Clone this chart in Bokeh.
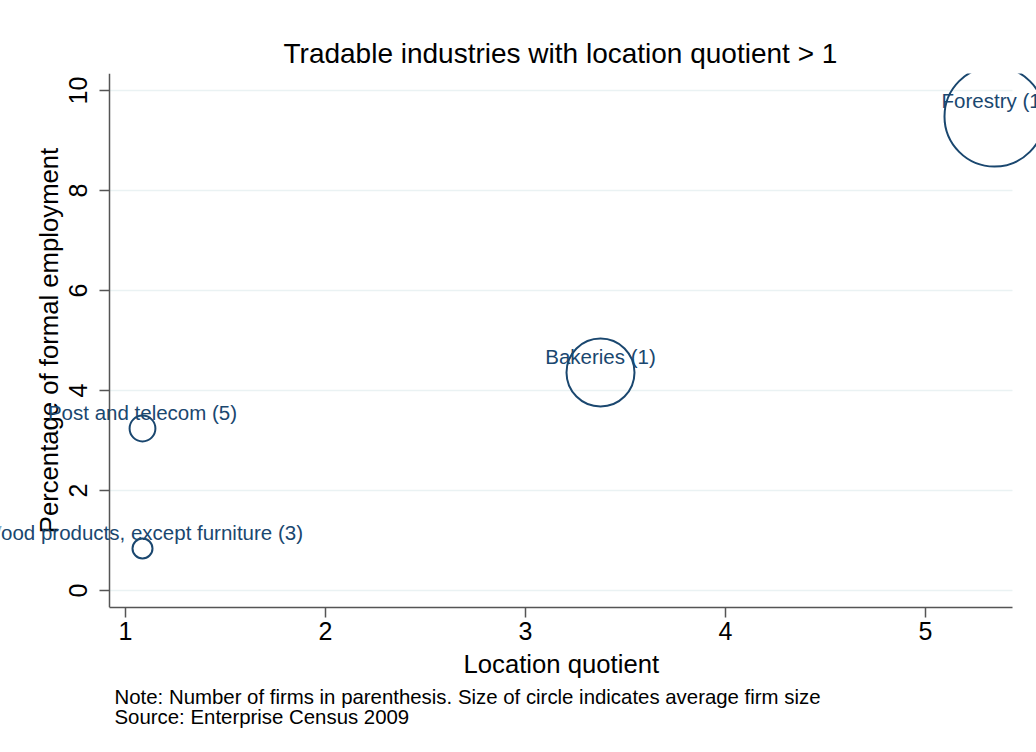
import math
from bokeh.plotting import figure
from bokeh.models import ColumnDataSource, Label, Title, Range1d, FixedTicker
from bokeh.embed import file_html
from bokeh.resources import INLINE

# ---- data ----
industries = ["Wood products, except furniture", "Post and telecom", "Bakeries", "Forestry"]
num_firms = [3, 5, 1, 1]
location_quotient = [1.085, 1.085, 3.375, 5.345]
pct_formal_employment = [0.84, 3.24, 4.36, 9.48]
avg_firm_size = [9.6, 16.0, 111.0, 240.0]
x_ticks = [1, 2, 3, 4, 5]
y_ticks = [0, 2, 4, 6, 8, 10]

labels = [f"{n} ({k})" for n, k in zip(industries, num_firms)]
MAX_D = 100.0
sizes = [MAX_D * math.sqrt(w / max(avg_firm_size)) for w in avg_firm_size]

src = ColumnDataSource(dict(x=location_quotient, y=pct_formal_employment,
                            size=sizes, label=labels))

FONT = "Liberation Sans"
NAVY = "#1a476f"
AXIS = "#555555"
X_AXIS_START, X_AXIS_END = 0.92, 5.435

p = figure(width=1036, height=744, output_backend="svg", toolbar_location=None,
           x_range=Range1d(0.375, 5.555), y_range=Range1d(-0.34, 10.34),
           min_border_left=0, min_border_right=0, min_border_top=73,
           min_border_bottom=137)
p.outline_line_color = None
p.background_fill_color = "white"
p.border_fill_color = "white"

p.scatter("x", "y", size="size", source=src, marker="circle",
          fill_color=None, line_color=NAVY, line_width=2)

# marker labels (one annotation per point, positioned through the data scales)
for xv, yv, t in zip(location_quotient, pct_formal_employment, labels):
    p.add_layout(Label(x=xv, y=yv, text=t, y_offset=16,
                       text_align="center", text_baseline="middle",
                       text_font=FONT, text_font_size="20.5px", text_color=NAVY))

# axes
for ax in (p.xaxis, p.yaxis):
    ax.axis_line_color = AXIS
    ax.axis_line_width = 1.5
    ax.major_tick_line_color = AXIS
    ax.major_tick_line_width = 1.5
    ax.major_tick_out = 10
    ax.major_tick_in = 0
    ax.minor_tick_line_color = None
    ax.major_label_text_font = FONT
    ax.major_label_text_font_size = "25px"
    ax.major_label_text_color = "black"
    ax.axis_label_text_font = FONT
    ax.axis_label_text_font_size = "25.7px"
    ax.axis_label_text_font_style = "normal"
    ax.axis_label_text_color = "black"

p.xaxis.ticker = FixedTicker(ticks=x_ticks)
p.yaxis.ticker = FixedTicker(ticks=y_ticks)
p.xaxis.bounds = (X_AXIS_START, X_AXIS_END)
p.yaxis.fixed_location = X_AXIS_START
p.yaxis.axis_label = "Percentage of formal employment"
p.xaxis.major_label_standoff = 4
p.yaxis.major_label_orientation = "vertical"
p.yaxis.major_label_standoff = 13
p.yaxis.axis_label_standoff = 3

p.xgrid.grid_line_color = None
p.ygrid.grid_line_color = "#eaf2f3"
p.ygrid.grid_line_width = 1.5
p.ygrid.cross_bounds = (X_AXIS_START, X_AXIS_END)

# title
p.title.text = "Tradable industries with location quotient > 1"
p.title.text_font = FONT
p.title.text_font_size = "28px"
p.title.text_font_style = "normal"
p.title.text_color = "black"
p.title.align = "left"
p.title.offset = 283

# x-axis title, centred under the drawn axis extent
xtitle = Title(text="Location quotient", align="left", offset=463,
               text_font=FONT, text_font_size="25.7px", text_font_style="normal",
               text_color="black", standoff=10)
p.add_layout(xtitle, "below")

note = Title(text="Note: Number of firms in parenthesis. Size of circle indicates average firm size\nSource: Enterprise Census 2009",
             align="left", offset=114, text_font=FONT, text_font_size="20.4px",
             text_font_style="normal", text_color="black", text_line_height=0.92,
             standoff=4)
p.add_layout(note, "below")

open("out.html", "w").write(file_html(p, INLINE))
